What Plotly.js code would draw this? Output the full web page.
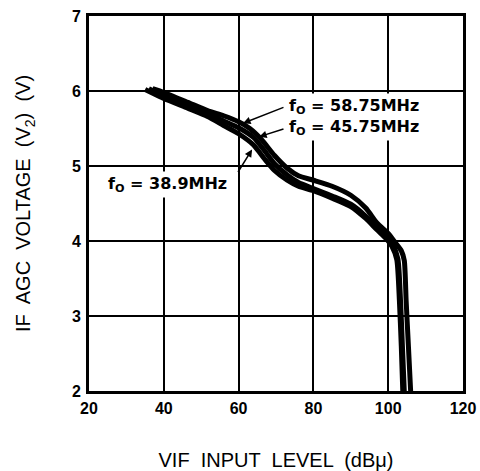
<!DOCTYPE html>
<html>
<head>
<meta charset="utf-8">
<script src="https://cdn.plot.ly/plotly-3.0.1.min.js"></script>
<style>html,body{margin:0;padding:0;background:#fff;}#chart{width:480px;height:471px;}</style>
</head>
<body>
<div id="chart"></div>
<script>
// VIF input level (dBµ) vs IF AGC voltage (V)
const x5875 = [37, 40, 46.4, 51.7, 56, 60, 63, 66, 69.6, 73, 76, 80, 85, 90, 94, 97, 100, 102, 103.5, 104.3, 104.8, 105.4, 106];
const y5875 = [6.03, 5.98, 5.85, 5.74, 5.67, 5.59, 5.5, 5.36, 5.14, 4.97, 4.87, 4.81, 4.73, 4.61, 4.44, 4.24, 4.1, 3.97, 3.87, 3.74, 3.2, 2.6, 2.0];
const x4575 = [36, 40, 46.4, 51.7, 56, 60, 64, 67, 69.6, 73, 76, 80, 85, 90, 94, 97, 99.8, 101.3, 102.6, 103.3, 103.8, 104.3];
const y4575 = [6.03, 5.94, 5.81, 5.7, 5.6, 5.51, 5.38, 5.2, 5.03, 4.88, 4.78, 4.7, 4.6, 4.49, 4.33, 4.17, 4.04, 3.94, 3.76, 3.2, 2.6, 2.0];
const x389 = [35, 40, 46.4, 51.7, 56, 60, 64, 67, 69.6, 73, 76, 80, 85, 90, 94, 97, 99.5, 101, 102.3, 103, 103.5, 103.9];
const y389 = [6.02, 5.9, 5.77, 5.66, 5.54, 5.43, 5.28, 5.09, 4.94, 4.81, 4.73, 4.67, 4.57, 4.46, 4.3, 4.15, 4.03, 3.93, 3.75, 3.2, 2.6, 2.0];
const xTicks = [20, 40, 60, 80, 100, 120];
const yTicks = [2, 3, 4, 5, 6, 7];
const labels = ["f<sub>O</sub> = 58.75MHz", "f<sub>O</sub> = 45.75MHz", "f<sub>O</sub> = 38.9MHz"];

const lineStyle = {color: '#000', width: 5, shape: 'spline', smoothing: 0.6};
const traces = [
  {x: x5875, y: y5875, mode: 'lines', line: lineStyle, name: labels[0], hoverinfo: 'skip'},
  {x: x4575, y: y4575, mode: 'lines', line: lineStyle, name: labels[1], hoverinfo: 'skip'},
  {x: x389, y: y389, mode: 'lines', line: lineStyle, name: labels[2], hoverinfo: 'skip'}
];

const annFont = {family: 'DejaVu Sans, sans-serif', size: 16, color: '#000', weight: 'bold'};
const layout = {
  width: 480, height: 471,
  margin: {l: 89, r: 17, t: 16, b: 80},
  paper_bgcolor: '#fff', plot_bgcolor: '#fff',
  showlegend: false,
  font: {family: 'Liberation Sans, Arial, sans-serif', color: '#000'},
  xaxis: {
    range: [20, 120], tickvals: xTicks, ticktext: xTicks.map(String),
    showgrid: true, gridcolor: '#000', gridwidth: 2, zeroline: false,
    showline: true, mirror: true, linecolor: '#000', linewidth: 3,
    ticks: '', ticklabelstandoff: 1,
    tickfont: {family: 'Liberation Sans, Arial, sans-serif', size: 16, weight: 'bold'},
    title: {text: '\u00a0\u00a0\u00a0VIF  INPUT  LEVEL  (dBμ)', standoff: 38, font: {size: 20}}
  },
  yaxis: {
    range: [2, 7], tickvals: yTicks, ticktext: yTicks.map(String),
    showgrid: true, gridcolor: '#000', gridwidth: 2, zeroline: false,
    showline: true, mirror: true, linecolor: '#000', linewidth: 3,
    ticks: '', ticklabelstandoff: 2,
    tickfont: {family: 'Liberation Sans, Arial, sans-serif', size: 16, weight: 'bold'},
    title: {text: 'IF  AGC  VOLTAGE  (V<sub>2</sub>)  (V)', standoff: 36, font: {size: 20}}
  },
  annotations: [
    {x: 61.2, y: 5.57, ax: 72.4, ay: 5.79, xref: 'x', yref: 'y', axref: 'x', ayref: 'y',
     showarrow: true, arrowhead: 2, arrowsize: 1, arrowwidth: 1.5, arrowcolor: '#000', text: ''},
    {x: 65.5, y: 5.39, ax: 72.4, ay: 5.5, xref: 'x', yref: 'y', axref: 'x', ayref: 'y',
     showarrow: true, arrowhead: 2, arrowsize: 1, arrowwidth: 1.5, arrowcolor: '#000', text: ''},
    {x: 63.6, y: 5.22, ax: 59.6, ay: 4.9, xref: 'x', yref: 'y', axref: 'x', ayref: 'y',
     showarrow: true, arrowhead: 2, arrowsize: 1, arrowwidth: 1.5, arrowcolor: '#000', text: ''},
    {x: 72.7, y: 5.8, xref: 'x', yref: 'y', xanchor: 'left', yanchor: 'middle', showarrow: false,
     text: labels[0], font: annFont, bgcolor: '#fff', borderpad: 2},
    {x: 72.7, y: 5.52, xref: 'x', yref: 'y', xanchor: 'left', yanchor: 'middle', showarrow: false,
     text: labels[1], font: annFont, bgcolor: '#fff', borderpad: 2},
    {x: 57.7, y: 4.76, xref: 'x', yref: 'y', xanchor: 'right', yanchor: 'middle', showarrow: false,
     text: labels[2], font: annFont, bgcolor: '#fff', borderpad: 2}
  ]
};
Plotly.newPlot('chart', traces, layout, {displayModeBar: false, staticPlot: true});
</script>
</body>
</html>
